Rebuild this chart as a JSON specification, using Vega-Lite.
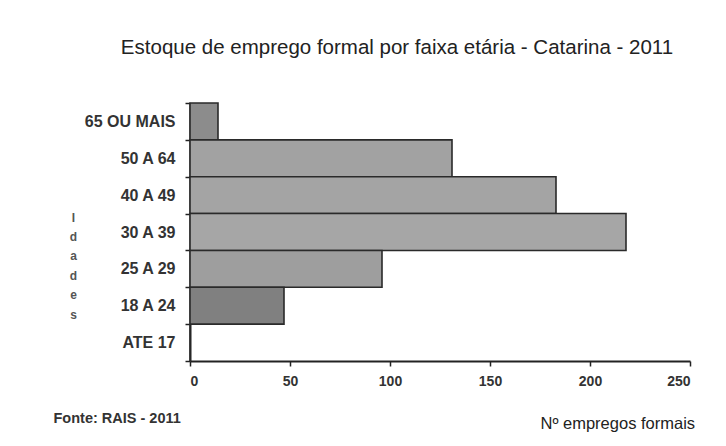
{
  "$schema": "https://vega.github.io/schema/vega-lite/v6.json",
  "autosize": "none",
  "width": 500,
  "height": 258,
  "padding": {"left": 190, "top": 103, "right": 36, "bottom": 85},
  "background": "white",
  "title": {
    "text": "Estoque de emprego formal por faixa etária - Catarina - 2011",
    "font": "Liberation Sans",
    "fontSize": 20.5,
    "fontWeight": "normal",
    "color": "#222",
    "anchor": "middle",
    "dx": -43,
    "offset": 37
  },
  "config": {
    "view": {"stroke": null},
    "axis": {
      "labelFont": "Liberation Sans",
      "titleFont": "Liberation Sans",
      "labelColor": "#333",
      "titleColor": "#333",
      "grid": false
    }
  },
  "data": {
    "values": [
      {"faixa": "65 OU MAIS", "empregos": 14},
      {"faixa": "50 A 64", "empregos": 131},
      {"faixa": "40 A 49", "empregos": 183},
      {"faixa": "30 A 39", "empregos": 218},
      {"faixa": "25 A 29", "empregos": 96},
      {"faixa": "18 A 24", "empregos": 47},
      {"faixa": "ATE 17", "empregos": 0}
    ]
  },
  "encoding": {
    "y": {
      "field": "faixa",
      "type": "nominal",
      "sort": null,
      "scale": {"paddingInner": 0, "paddingOuter": 0}
    },
    "x": {
      "field": "empregos",
      "type": "quantitative",
      "scale": {"domain": [0, 250], "nice": false}
    }
  },
  "layer": [
    {
      "mark": {"type": "bar", "stroke": "#2a2a2a", "strokeWidth": 1.6},
      "encoding": {
        "color": {
          "field": "faixa",
          "type": "nominal",
          "scale": {
            "domain": ["65 OU MAIS", "50 A 64", "40 A 49", "30 A 39", "25 A 29", "18 A 24", "ATE 17"],
            "range": ["#8c8c8c", "#a2a2a2", "#a4a4a4", "#a6a6a6", "#9e9e9e", "#808080", "#a0a0a0"]
          },
          "legend": null
        },
        "y": {
          "field": "faixa",
          "type": "nominal",
          "sort": null,
          "axis": {
            "orient": "left",
            "title": ["I", "d", "a", "d", "e", "s"],
            "titleAngle": 0,
            "titleX": -117,
            "titleY": 114,
            "titleAlign": "center",
            "titleBaseline": "middle",
            "titleLineHeight": 19.4,
            "titleFontSize": 12,
            "titleFontWeight": "bold",
            "titleColor": "#555",
            "labelFontSize": 16,
            "labelFontWeight": "bold",
            "labelPadding": 10,
            "tickBand": "extent",
            "tickSize": 5,
            "tickColor": "#222",
            "tickWidth": 1.5,
            "domainColor": "#222",
            "domainWidth": 2
          }
        },
        "x": {
          "field": "empregos",
          "type": "quantitative",
          "axis": {
            "orient": "bottom",
            "values": [0, 50, 100, 150, 200, 250],
            "title": "Nº empregos formais",
            "titleX": 350,
            "titleY": 62,
            "titleAlign": "left",
            "titleAnchor": null,
            "titleBaseline": "middle",
            "titleFontSize": 16.5,
            "titleFontWeight": "normal",
            "titleColor": "#222",
            "labelFontSize": 14,
            "labelFontWeight": "bold",
            "labelPadding": 8,
            "tickSize": 5,
            "tickColor": "#222",
            "tickWidth": 1.5,
            "domainColor": "#222",
            "domainWidth": 2
          }
        }
      }
    },
    {
      "mark": {"type": "bar", "opacity": 0},
      "encoding": {
        "y": {
          "field": "faixa",
          "type": "nominal",
          "sort": null,
          "axis": {
            "orient": "right",
            "labels": false,
            "ticks": false,
            "domain": false,
            "title": "Fonte: RAIS - 2011",
            "titleAngle": 0,
            "titleX": -637,
            "titleY": 315,
            "titleAlign": "left",
            "titleAnchor": null,
            "titleBaseline": "middle",
            "titleFontSize": 14.5,
            "titleFontWeight": "bold",
            "titleColor": "#333"
          }
        }
      }
    }
  ],
  "resolve": {"axis": {"y": "independent"}}
}
